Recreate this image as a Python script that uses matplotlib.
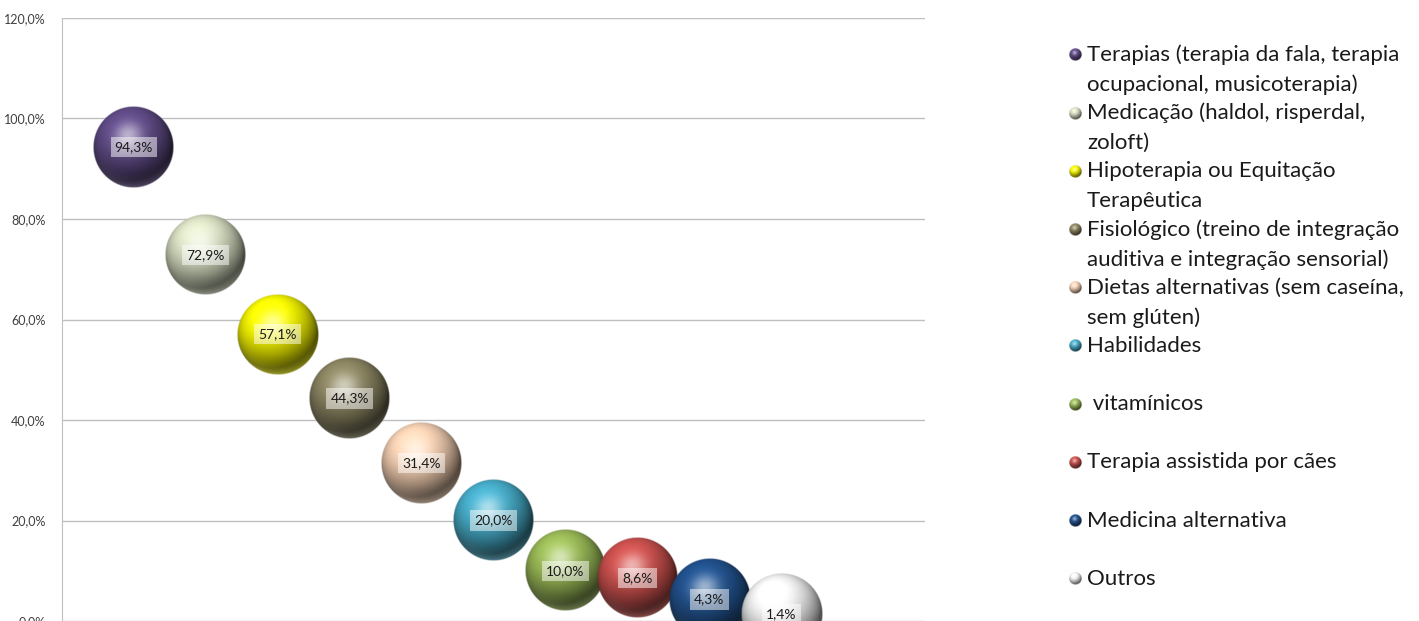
import matplotlib
matplotlib.use("Agg")
import matplotlib.pyplot as plt
import numpy as np

plt.rcParams['font.family'] = ['Lato', 'DejaVu Sans']

# survey results: share of respondents per intervention type
labels = [
    "Terapias (terapia da fala, terapia\nocupacional, musicoterapia)",
    "Medicação (haldol, risperdal,\nzoloft)",
    "Hipoterapia ou Equitação\nTerapêutica",
    "Fisiológico (treino de integração\nauditiva e integração sensorial)",
    "Dietas alternativas (sem caseína,\nsem glúten)",
    "Habilidades",
    " vitamínicos",
    "Terapia assistida por cães",
    "Medicina alternativa",
    "Outros",
]
values = [94.3, 72.9, 57.1, 44.3, 31.4, 20.0, 10.0, 8.6, 4.3, 1.4]
colors = ["#5e4a84", "#d5dcc0", "#f2f200", "#888260", "#f1cdb0",
          "#45a8c4", "#97b655", "#c64f4c", "#21508a", "#eeeeee"]
yticks = [0, 20, 40, 60, 80, 100, 120]


def sphere_image(color, n=160):
    """RGBA image of a shaded glossy sphere."""
    base = np.array(matplotlib.colors.to_rgb(color))
    u = np.linspace(-1, 1, n)
    X, Y = np.meshgrid(u, u)
    r = np.sqrt(X**2 + Y**2)
    Z = np.sqrt(np.clip(1 - r**2, 0, 1))
    L = np.array([-0.25, 0.55, 0.80])
    L = L / np.linalg.norm(L)
    diff = np.clip(X * L[0] + Y * L[1] + Z * L[2], 0, 1)
    H = L + np.array([0, 0, 1.0])
    H = H / np.linalg.norm(H)
    spec = np.clip(X * H[0] + Y * H[1] + Z * H[2], 0, 1) ** 18
    # light reflection along the lower rim
    rim = np.clip(-Y, 0, 1) * np.clip(r - 0.6, 0, 1) / 0.4
    rim = rim ** 1.5 * 0.45
    shade = 0.32 + 0.80 * diff
    rgb = base[None, None, :] * shade[..., None]
    rgb = rgb + (1 - rgb) * (0.55 * spec)[..., None]
    light = base + (1 - base) * 0.35
    rgb = rgb * (1 - rim[..., None]) + light[None, None, :] * rim[..., None]
    rgb = np.clip(rgb, 0, 1)
    alpha = np.clip((1 - r) * n / 2.5, 0, 1)
    return np.dstack([rgb, alpha])


fig = plt.figure(figsize=(14.19, 6.21), dpi=100)
W, Hpx = 1419, 621
ax = fig.add_axes([62 / W, 0, (925 - 62) / W, (621 - 18) / Hpx])
ax.set_xlim(0, 12)
ax.set_ylim(0, 120)

for s in ["top", "right", "bottom"]:
    ax.spines[s].set_visible(False)
ax.spines["left"].set_color("#bfbfbf")
ax.set_yticks(yticks)
ax.set_yticklabels([f"{t:.1f}%".replace(".", ",") for t in yticks],
                   fontsize=9, color="#404040")
ax.tick_params(axis="y", length=0, pad=12)
ax.set_xticks([])
ax.yaxis.grid(True, color="#bfbfbf", linewidth=1)
ax.set_axisbelow(True)

# bubble radius in pixels, converted to data units
R = 40.5
px_x = (925 - 62) / 12
px_y = (621 - 18) / 120
rx, ry = R / px_x, R / px_y

for i, (v, c) in enumerate(zip(values, colors)):
    x = i + 1
    ax.imshow(sphere_image(c), extent=[x - rx, x + rx, v - ry, v + ry],
              origin="lower", aspect="auto", interpolation="bilinear",
              zorder=3 + i)
    ax.text(x, v, f"{v:.1f}%".replace(".", ","), ha="center", va="center",
            fontsize=10, color="#1a1a1a", zorder=20,
            bbox=dict(boxstyle="square,pad=0.3", fc="white", ec="none",
                      alpha=0.5))

# legend drawn in pixel coordinates on an overlay axes
lg = fig.add_axes([0, 0, 1, 1])
lg.set_xlim(0, W)
lg.set_ylim(Hpx, 0)
lg.axis("off")
for i, (lab, c) in enumerate(zip(labels, colors)):
    y0 = 55 + 58.2 * i
    m = 6.5
    lg.imshow(sphere_image(c, 40), extent=[1075 - m, 1075 + m, y0 + m, y0 - m],
              origin="lower", aspect="auto", interpolation="bilinear")
    for j, line in enumerate(lab.split("\n")):
        lg.text(1087, y0 + 30 * j, line, ha="left", va="center",
                fontsize=16, color="#1a1a1a")

fig.savefig("out.png", dpi=100)
